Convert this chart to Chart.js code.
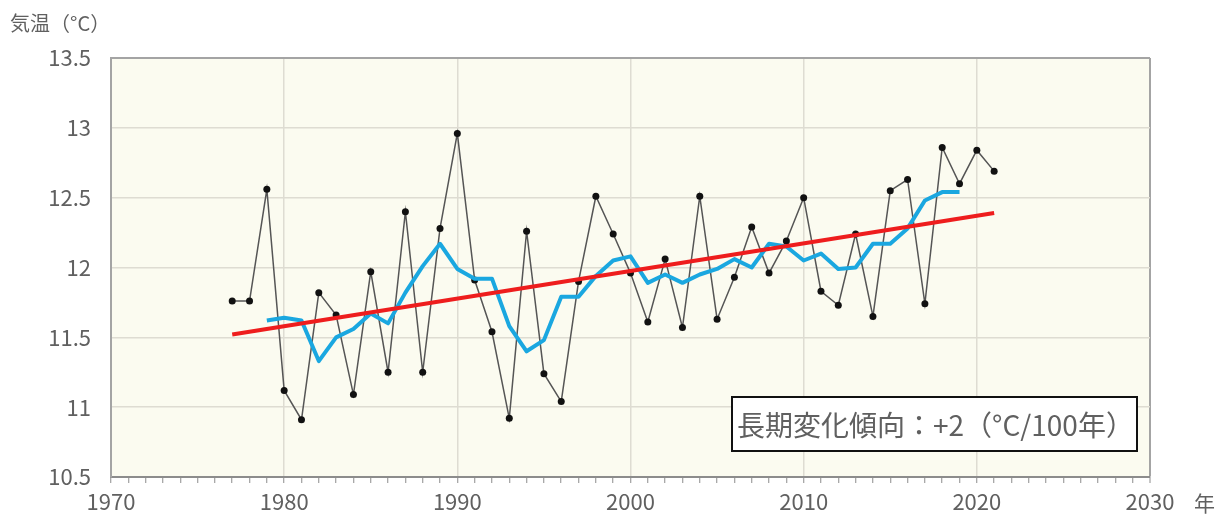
<!DOCTYPE html>
<html lang="ja">
<head>
<meta charset="utf-8">
<title>気温の経年変化</title>
<script src="https://cdn.jsdelivr.net/npm/chart.js@4/dist/chart.umd.min.js"></script>
<style>
  html, body { margin: 0; padding: 0; background: #fff; }
  #wrap { position: relative; width: 1216px; height: 522px; }
</style>
</head>
<body>
<div id="wrap"><canvas id="tempChart" width="1216" height="522"></canvas></div>
<script>
// 年平均気温（観測値）
const years = [1977, 1978, 1979, 1980, 1981, 1982, 1983, 1984, 1985, 1986,
  1987, 1988, 1989, 1990, 1991, 1992, 1993, 1994, 1995, 1996,
  1997, 1998, 1999, 2000, 2001, 2002, 2003, 2004, 2005, 2006,
  2007, 2008, 2009, 2010, 2011, 2012, 2013, 2014, 2015, 2016,
  2017, 2018, 2019, 2020, 2021];
const temps = [11.76, 11.76, 12.56, 11.12, 10.91, 11.82, 11.66, 11.09, 11.97, 11.25,
  12.40, 11.25, 12.28, 12.96, 11.91, 11.54, 10.92, 12.26, 11.24, 11.04,
  11.90, 12.51, 12.24, 11.96, 11.61, 12.06, 11.57, 12.51, 11.63, 11.93,
  12.29, 11.96, 12.19, 12.50, 11.83, 11.73, 12.24, 11.65, 12.55, 12.63,
  11.74, 12.86, 12.60, 12.84, 12.69];

// 5年移動平均
const maYears = [1979, 1980, 1981, 1982, 1983, 1984, 1985, 1986, 1987, 1988,
  1989, 1990, 1991, 1992, 1993, 1994, 1995, 1996, 1997, 1998,
  1999, 2000, 2001, 2002, 2003, 2004, 2005, 2006, 2007, 2008,
  2009, 2010, 2011, 2012, 2013, 2014, 2015, 2016, 2017, 2018, 2019];
const maValues = [11.62, 11.64, 11.62, 11.33, 11.50, 11.56, 11.67, 11.60, 11.82, 12.01,
  12.17, 11.99, 11.92, 11.92, 11.58, 11.40, 11.48, 11.79, 11.79, 11.94,
  12.05, 12.08, 11.89, 11.95, 11.89, 11.95, 11.99, 12.06, 12.00, 12.17,
  12.15, 12.05, 12.10, 11.99, 12.00, 12.17, 12.17, 12.28, 12.48, 12.54, 12.54];

// 長期変化傾向（直線の両端）
const trendYears = [1977, 2021];
const trendValues = [11.52, 12.39];

const trendLabel = '長期変化傾向：+2（°C/100年）';
const yTitle = '気温（°C）';
const xUnit = '年';

const FONT = "'Noto Sans CJK JP', 'Noto Sans', sans-serif";
const TEXT = '#606060';
const GRID = '#dedcd2';
const FRAME = '#a4a4a4';

const toXY = (xs, ys) => xs.map((x, i) => ({ x: x, y: ys[i] }));

// plot background, axis captions and the trend note box
const extras = {
  id: 'extras',
  beforeDraw(chart) {
    const { ctx, chartArea: a } = chart;
    ctx.save();
    ctx.fillStyle = '#fbfbf0';
    ctx.fillRect(a.left, a.top, a.right - a.left, a.bottom - a.top);
    ctx.restore();
  },
  afterDraw(chart) {
    const { ctx, chartArea: a } = chart;
    ctx.save();
    ctx.fillStyle = TEXT;
    ctx.textBaseline = 'middle';
    ctx.font = '20px ' + FONT;
    ctx.textAlign = 'left';
    ctx.fillText(yTitle, 10, 23);
    ctx.font = '21px ' + FONT;
    ctx.fillText(xUnit, a.right + 44, 503);

    // trend note
    const bx = 732, by = 397, bw = 405, bh = 54;
    ctx.fillStyle = '#fff';
    ctx.fillRect(bx, by, bw, bh);
    ctx.strokeStyle = '#111';
    ctx.lineWidth = 2;
    ctx.strokeRect(bx, by, bw, bh);
    ctx.fillStyle = TEXT;
    ctx.font = '28px ' + FONT;
    ctx.fillText(trendLabel, bx + 5, by + bh / 2 + 1);
    ctx.restore();
  }
};

new Chart(document.getElementById('tempChart'), {
  type: 'line',
  data: {
    datasets: [
      {
        label: '長期変化傾向',
        data: toXY(trendYears, trendValues),
        borderColor: '#ee1d1d',
        borderWidth: 4,
        pointRadius: 0,
        order: 0
      },
      {
        label: '5年移動平均',
        data: toXY(maYears, maValues),
        borderColor: '#1aa7e0',
        borderWidth: 4,
        borderJoinStyle: 'round',
        pointRadius: 0,
        order: 1
      },
      {
        label: '年平均気温',
        data: toXY(years, temps),
        borderColor: '#555',
        borderWidth: 1.5,
        pointRadius: 3.5,
        pointBackgroundColor: '#111',
        pointBorderColor: '#111',
        pointBorderWidth: 0,
        order: 2
      }
    ]
  },
  options: {
    responsive: false,
    animation: false,
    events: [],
    layout: { padding: { top: 58, right: 66, left: 0, bottom: 0 } },
    plugins: {
      legend: { display: false },
      tooltip: { enabled: false }
    },
    scales: {
      x: {
        type: 'linear',
        min: 1970,
        max: 2030,
        afterFit(scale) { scale.height = 45; },
        border: { color: '#8c8c8c', width: 2 },
        grid: {
          color: (c) => {
            const v = c.tick ? c.tick.value : 0;
            if (v === 2030) return FRAME;
            return v % 10 === 0 ? GRID : 'rgba(0,0,0,0)';
          },
          lineWidth: (c) => (c.tick && c.tick.value === 2030 ? 2 : 1.5),
          tickColor: '#8c8c8c',
          tickLength: 6,
          tickWidth: 1
        },
        ticks: {
          stepSize: 1,
          autoSkip: false,
          maxRotation: 0,
          padding: 5,
          color: TEXT,
          font: { family: FONT, size: 22 },
          callback: (v) => (v % 10 === 0 ? String(v) : '')
        }
      },
      y: {
        min: 10.5,
        max: 13.5,
        afterFit(scale) { scale.width = 111; },
        border: { color: FRAME, width: 2 },
        grid: {
          color: (c) => (c.tick && c.tick.value === 13.5 ? FRAME : GRID),
          lineWidth: (c) => (c.tick && c.tick.value === 13.5 ? 2 : 1.5),
          drawTicks: false
        },
        ticks: {
          stepSize: 0.5,
          padding: 20,
          color: TEXT,
          font: { family: FONT, size: 22 },
          callback: (v) => String(Math.round(v * 10) / 10)
        }
      }
    }
  },
  plugins: [extras]
});
</script>
</body>
</html>
